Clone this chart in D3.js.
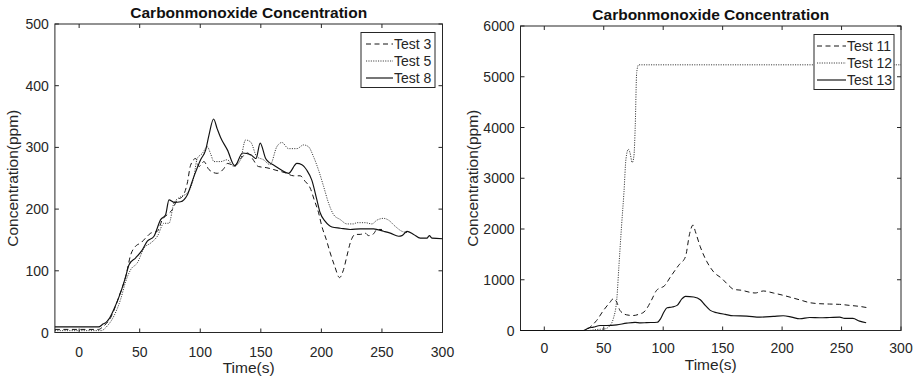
<!DOCTYPE html>
<html>
<head>
<meta charset="utf-8">
<script src="https://cdn.jsdelivr.net/npm/d3@7"></script>
<style>
  html, body { margin: 0; padding: 0; background: #fff; }
  svg { display: block; }
  text { font-family: "Liberation Sans", Arial, Helvetica, sans-serif; fill: #262626; }
</style>
</head>
<body>
<svg id="chart" width="920" height="381"></svg>
<script>
// ---------------- DATA ----------------
const chartTitle = "Carbonmonoxide Concentration";
const xLabel = "Time(s)";
const yLabel = "Concentration(ppm)";
const xTicks = [0, 50, 100, 150, 200, 250, 300];
const yTicksLeft = [0, 100, 200, 300, 400, 500];
const yTicksRight = [0, 1000, 2000, 3000, 4000, 5000, 6000];
const legendLeft = ["Test 3", "Test 5", "Test 8"];
const legendRight = ["Test 11", "Test 12", "Test 13"];

// Left panel series [time, ppm]
const test3 = [[-20,5],[16,5],[20,10],[26,24],[33,59],[38.5,91],[42.6,126],[46.7,140],[50.8,145],[56.3,156],[59.1,161],[64.6,164],[68.7,183],[72.8,191],[76.9,199],[81,215],[85.2,220],[89.3,242],[92,271],[96.2,282],[99,269],[103,277],[107.2,264],[114,258],[119.6,266],[122.4,274],[128,271],[133.5,282],[139,291],[143,282],[148,269],[155,267],[162.5,263],[170,259],[177,254],[182.5,254],[186.6,245],[190.8,234],[194.1,215],[197.7,194],[200.4,172],[204,151],[207.3,129],[210.9,108],[215,89],[218.3,102],[221.1,124],[223.8,145],[228,159],[232.1,159],[236.2,161],[239,157],[243.1,160],[245.9,167],[250,167]];
const test5 = [[-20,3],[18,3],[23.4,11],[28.8,27],[34.3,54],[38.5,83],[42.6,102],[48.1,113],[53.6,137],[59.1,145],[64.6,156],[70,177],[74.2,177],[78.3,210],[83.8,220],[89.3,226],[94.8,253],[97.5,282],[101.6,290],[105.8,301],[108.5,290],[111.3,277],[116.8,277],[122.3,280],[127.7,269],[133.2,280],[137.4,312],[141.5,309],[146.7,285],[152.2,280],[157.7,272],[163.2,301],[167.4,308],[172.9,298],[179.8,298],[185.3,304],[189.4,301],[193.5,285],[197.7,263],[201.8,237],[205.9,210],[210.1,191],[215.6,183],[221.1,176],[226.6,176],[229.3,178],[236.2,178],[241.7,176],[245.8,182],[251.4,185],[255.5,182],[261,172],[266.5,164],[270.7,162]];
const test8 = [[-20,9],[16,9],[20,14],[22,16],[24.7,22],[28.8,38],[34.3,65],[38.5,91],[41.2,110],[46.7,121],[52.2,134],[56.3,148],[61.8,156],[67.3,183],[71.4,191],[74.2,215],[78.3,211],[83.8,212],[89.3,223],[94.8,253],[100.3,280],[104.5,296],[107.2,320],[111,346],[114,330],[116.8,316],[122.4,296],[128.5,270],[134.9,291],[141.8,288],[146,282],[149.5,307],[154,282],[156.6,276],[160.8,271],[166.3,264],[172.9,258],[179.8,274],[183.9,272],[188,263],[192.1,247],[196.3,215],[199,194],[203.2,180],[208.7,171],[215.6,169],[223.8,167],[232.1,168],[243.1,168],[251.4,164],[256.9,161],[263.8,156],[266.5,157],[270.7,164],[276.2,159],[281.7,153],[287.2,153],[289.1,157],[291.3,153],[300,152]];

// Right panel series [time, ppm]
const test11 = [[-20,0],[34,0],[38.5,66],[44,197],[49.7,393],[55.3,557],[58,625],[61,557],[63.7,393],[69.3,308],[74.9,295],[80.4,328],[83.8,363],[86,426],[90.2,600],[94.4,790],[97.8,840],[100.6,871],[106.1,1056],[113.1,1287],[118.7,1452],[122.3,1914],[125.1,2079],[127.1,1947],[131.2,1650],[136.8,1353],[142.4,1155],[149.4,1023],[155,891],[159.1,812],[166.1,792],[173.1,752],[177.3,739],[184.2,779],[192.6,739],[201,693],[209.3,640],[216.3,594],[223.3,548],[231.7,528],[240,521],[248.4,515],[256.8,495],[265.1,475],[273.5,442]];
const test12 = [[-20,0],[37,0],[44,20],[51,33],[55.3,98],[58,230],[61,620],[62.8,1280],[65,2065],[67,2720],[68.7,3380],[70.7,3570],[72,3510],[74,3310],[75.4,3440],[76.5,4030],[77.7,5080],[79.3,5235],[300,5235]];
const test13 = [[-20,0],[33,0],[37,46],[41.3,66],[47,98],[52.5,98],[61,111],[69.3,144],[76.3,160],[81,150],[86,155],[95,162],[97.8,231],[100.6,363],[103.3,449],[107.5,462],[111.7,495],[115.9,627],[118.7,673],[125.7,660],[131.2,607],[135.4,495],[139.6,396],[145.2,350],[152.2,317],[159.1,290],[170.3,284],[181.4,264],[192.6,277],[201,290],[208,264],[214.9,231],[223.3,257],[231.7,251],[240,257],[248.4,264],[252.6,238],[259.6,238],[265.1,185],[270.7,152]];

// ---------------- STYLE ----------------
const ink = "#262626";
const styles = [
  { dash: "5,3.5", width: 1.0, color: "#151515" },
  { dash: "1.1,1.3", width: 0.9, color: "#222" },
  { dash: null, width: 1.15, color: "#111" }
];

const svg = d3.select("#chart");

function panel(cfg) {
  const x = d3.scaleLinear().domain([-20, 300]).range([cfg.x0, cfg.x1]);
  const y = d3.scaleLinear().domain(cfg.yDomain).range([cfg.y1, cfg.y0]);
  const g = svg.append("g");

  // axes box
  g.append("rect")
    .attr("x", cfg.x0).attr("y", cfg.y0)
    .attr("width", cfg.x1 - cfg.x0).attr("height", cfg.y1 - cfg.y0)
    .attr("fill", "none").attr("stroke", ink).attr("stroke-width", 1);

  const tl = 4;
  // x ticks (bottom & top, inward)
  xTicks.forEach(t => {
    const px = x(t);
    g.append("line").attr("x1", px).attr("x2", px).attr("y1", cfg.y1).attr("y2", cfg.y1 - tl).attr("stroke", ink);
    g.append("line").attr("x1", px).attr("x2", px).attr("y1", cfg.y0).attr("y2", cfg.y0 + tl).attr("stroke", ink);
    g.append("text").attr("x", px).attr("y", cfg.xTickY)
      .attr("text-anchor", "middle").attr("font-size", 14).text(t);
  });
  // y ticks (left & right, inward)
  cfg.yTicks.forEach(v => {
    const py = y(v);
    g.append("line").attr("x1", cfg.x0).attr("x2", cfg.x0 + tl).attr("y1", py).attr("y2", py).attr("stroke", ink);
    g.append("line").attr("x1", cfg.x1).attr("x2", cfg.x1 - tl).attr("y1", py).attr("y2", py).attr("stroke", ink);
    g.append("text").attr("x", cfg.x0 - 6).attr("y", py + 5)
      .attr("text-anchor", "end").attr("font-size", 14).text(v);
  });

  // lines
  const line = d3.line().x(d => x(d[0])).y(d => y(d[1])).curve(d3.curveMonotoneX);
  cfg.series.forEach((s, i) => {
    const st = styles[i];
    g.append("path").datum(s)
      .attr("d", line)
      .attr("fill", "none")
      .attr("stroke", st.color)
      .attr("stroke-width", st.width)
      .attr("stroke-dasharray", st.dash);
  });

  // title
  g.append("text").attr("x", (cfg.x0 + cfg.x1) / 2).attr("y", cfg.titleY)
    .attr("text-anchor", "middle").attr("font-size", 15.5).attr("font-weight", "bold")
    .style("fill", "#111").text(chartTitle);
  // x label
  g.append("text").attr("x", (cfg.x0 + cfg.x1) / 2).attr("y", cfg.xLabelY)
    .attr("text-anchor", "middle").attr("font-size", 15.5).text(xLabel);
  // y label
  const cy = (cfg.y0 + cfg.y1) / 2;
  g.append("text")
    .attr("transform", `translate(${cfg.yLabelX},${cy}) rotate(-90)`)
    .attr("text-anchor", "middle").attr("font-size", 15.5).text(yLabel);

  // legend
  const L = cfg.legend;
  g.append("rect").attr("x", L.x0).attr("y", L.y0)
    .attr("width", L.x1 - L.x0).attr("height", L.y1 - L.y0)
    .attr("fill", "#fff").attr("stroke", ink).attr("stroke-width", 1);
  cfg.legendNames.forEach((name, i) => {
    const cyL = L.rows[i];
    const st = styles[i];
    g.append("line").attr("x1", L.lx0).attr("x2", L.lx1).attr("y1", cyL).attr("y2", cyL)
      .attr("stroke", st.color).attr("stroke-width", st.width).attr("stroke-dasharray", st.dash);
    g.append("text").attr("x", L.tx).attr("y", cyL + 5).attr("font-size", 14).text(name);
  });
}

panel({
  x0: 54.9, x1: 442.5, y0: 24, y1: 332.5,
  yDomain: [0, 500], yTicks: yTicksLeft,
  series: [test3, test5, test8],
  xTickY: 356.5, titleY: 18.3, xLabelY: 373, yLabelX: 17.5,
  legendNames: legendLeft,
  legend: { x0: 361, x1: 435, y0: 32.5, y1: 87.5, lx0: 366, lx1: 393, tx: 394, rows: [44, 61, 78] }
});

panel({
  x0: 520.5, x1: 901, y0: 26, y1: 330.5,
  yDomain: [0, 6000], yTicks: yTicksRight,
  series: [test11, test12, test13],
  xTickY: 353, titleY: 20, xLabelY: 370, yLabelX: 477.5,
  legendNames: legendRight,
  legend: { x0: 814, x1: 894, y0: 34.5, y1: 89.5, lx0: 817, lx1: 846, tx: 847, rows: [46, 63, 80] }
});
</script>
</body>
</html>
